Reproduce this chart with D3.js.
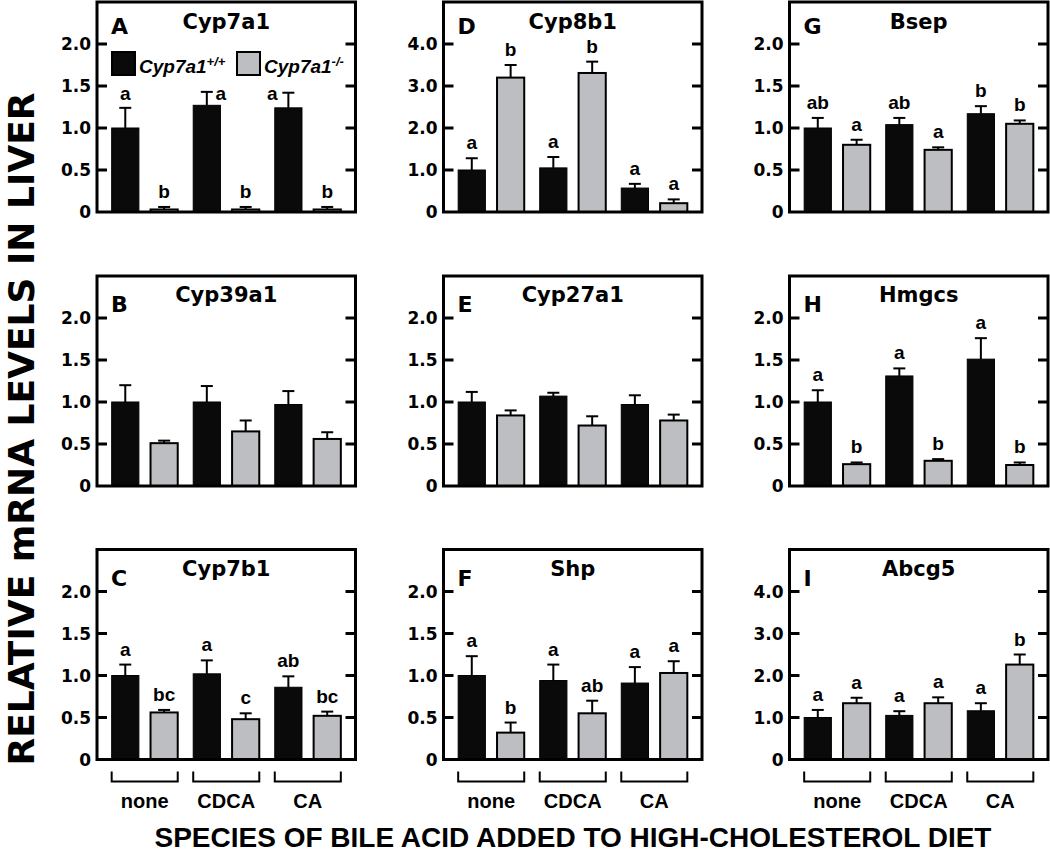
<!DOCTYPE html>
<html><head><meta charset="utf-8">
<script src="https://cdn.jsdelivr.net/npm/d3@7"></script>
<style>
body{margin:0;background:#fff}
svg{display:block}
text{font-family:"Liberation Sans",Arial,sans-serif;font-weight:bold;fill:#000}
.wide{font-family:"DejaVu Sans",sans-serif;font-weight:bold}
</style>
</head><body><svg id="c" width="1050" height="854"></svg>
<script>
// ---------- data ----------
const groups = ["none", "CDCA", "CA"];
const genotypes = ["wt", "ko"];
const panelLetters = ["A", "B", "C", "D", "E", "F", "G", "H", "I"];
const genes = ["Cyp7a1", "Cyp39a1", "Cyp7b1", "Cyp8b1", "Cyp27a1", "Shp", "Bsep", "Hmgcs", "Abcg5"];
const yMax = [2.5, 2.5, 2.5, 5, 2.5, 2.5, 2.5, 2.5, 5];
const tickSmall = [0, 0.5, 1.0, 1.5, 2.0];
const tickLabelsSmall = ["0", "0.5", "1.0", "1.5", "2.0"];
const tickLarge = [0, 1, 2, 3, 4];
const tickLabelsLarge = ["0", "1.0", "2.0", "3.0", "4.0"];
const wtMean = [
  [1.00, 1.27, 1.24], [1.00, 1.00, 0.97], [1.00, 1.02, 0.86],
  [1.00, 1.05, 0.57], [1.00, 1.07, 0.97], [1.00, 0.94, 0.91],
  [1.00, 1.04, 1.17], [1.00, 1.31, 1.51], [1.00, 1.05, 1.16]
];
const wtSem = [
  [0.24, 0.16, 0.18], [0.20, 0.19, 0.16], [0.13, 0.16, 0.13],
  [0.28, 0.26, 0.10], [0.12, 0.04, 0.11], [0.23, 0.19, 0.19],
  [0.12, 0.08, 0.09], [0.14, 0.09, 0.25], [0.18, 0.10, 0.18]
];
const koMean = [
  [0.03, 0.03, 0.03], [0.51, 0.65, 0.56], [0.56, 0.48, 0.52],
  [3.20, 3.31, 0.21], [0.84, 0.72, 0.78], [0.32, 0.55, 1.03],
  [0.80, 0.74, 1.05], [0.26, 0.30, 0.25], [1.34, 1.34, 2.26]
];
const koSem = [
  [0.03, 0.03, 0.03], [0.03, 0.13, 0.08], [0.03, 0.07, 0.05],
  [0.30, 0.27, 0.09], [0.06, 0.11, 0.07], [0.12, 0.15, 0.14],
  [0.06, 0.03, 0.04], [0.02, 0.02, 0.03], [0.13, 0.14, 0.24]
];
const wtLetters = [
  ["a", "a", "a"], ["", "", ""], ["a", "a", "ab"],
  ["a", "a", "a"], ["", "", ""], ["a", "a", "a"],
  ["ab", "ab", "b"], ["a", "a", "a"], ["a", "a", "a"]
];
const koLetters = [
  ["b", "b", "b"], ["", "", ""], ["bc", "c", "bc"],
  ["b", "b", "a"], ["", "", ""], ["b", "ab", "a"],
  ["a", "a", "b"], ["b", "b", "b"], ["a", "a", "b"]
];
const legendLabels = ["Cyp7a1", "Cyp7a1"];
const legendSup = ["+/+", "-/-"];
const yTitle = "RELATIVE mRNA LEVELS IN LIVER";
const xTitle = "SPECIES OF BILE ACID ADDED TO HIGH-CHOLESTEROL DIET";

// ---------- layout ----------
const colX = [97, 443.5, 789.5];
const rowY = [2, 276, 549.5];
const W = 258.5, H = 210;
const colors = { wt: "#0a0a0a", ko: "#bdbec1" };

const svg = d3.select("#c");

const x0 = d3.scaleBand().domain(groups).range([0, W]).paddingInner(0.19).paddingOuter(0.18);
const x1 = d3.scaleBand().domain(genotypes).range([0, x0.bandwidth()]).paddingInner(0.3).paddingOuter(0);

panelLetters.forEach((L, i) => {
  const col = Math.floor(i / 3), row = i % 3;
  const g = svg.append("g").attr("transform", `translate(${colX[col]},${rowY[row]})`);
  const y = d3.scaleLinear().domain([0, yMax[i]]).range([H, 0]);
  const big = yMax[i] > 3;
  const tv = big ? tickLarge : tickSmall;
  const tl = big ? tickLabelsLarge : tickLabelsSmall;

  const rows = [];
  groups.forEach((grp, j) => {
    rows.push({ grp, gt: "wt", v: wtMean[i][j], e: wtSem[i][j], lab: wtLetters[i][j], j });
    rows.push({ grp, gt: "ko", v: koMean[i][j], e: koSem[i][j], lab: koLetters[i][j], j });
  });
  const bx = d => x0(d.grp) + x1(d.gt);
  const bw = x1.bandwidth();

  // error bars (upper half only)
  rows.forEach(d => {
    const cx = bx(d) + bw / 2;
    g.append("line").attr("x1", cx).attr("x2", cx).attr("y1", y(d.v)).attr("y2", y(d.v + d.e))
      .attr("stroke", "#000").attr("stroke-width", 2);
    g.append("line").attr("x1", cx - 6).attr("x2", cx + 6).attr("y1", y(d.v + d.e)).attr("y2", y(d.v + d.e))
      .attr("stroke", "#000").attr("stroke-width", 2);
  });
  // bars
  g.selectAll("rect.bar").data(rows).join("rect")
    .attr("class", "bar")
    .attr("x", d => bx(d)).attr("width", bw)
    .attr("y", d => y(d.v)).attr("height", d => H - y(d.v))
    .attr("fill", d => colors[d.gt])
    .attr("stroke", "#000").attr("stroke-width", d => d.gt === "ko" ? 2 : 1);

  // significance letters
  rows.forEach(d => {
    if (!d.lab) return;
    let tx = bx(d) + bw / 2, ty = y(d.v + d.e) - 9;
    if (i === 0 && d.gt === "wt") {
      ty = y(wtMean[0][0] + wtSem[0][0]) - 8;
      if (d.j === 1) tx += 14;
      if (d.j === 2) tx -= 16;
    }
    g.append("text").attr("x", tx).attr("y", ty).attr("text-anchor", "middle")
      .style("font-size", "19px").text(d.lab);
  });

  // frame
  g.append("rect").attr("x", 0).attr("y", 0).attr("width", W).attr("height", H)
    .attr("fill", "none").attr("stroke", "#000").attr("stroke-width", 3);

  // inward ticks left/right + labels
  tv.forEach((t, k) => {
    if (t > 0) {
      g.append("line").attr("x1", 0).attr("x2", 10).attr("y1", y(t)).attr("y2", y(t))
        .attr("stroke", "#000").attr("stroke-width", 3);
      g.append("line").attr("x1", W - 10).attr("x2", W).attr("y1", y(t)).attr("y2", y(t))
        .attr("stroke", "#000").attr("stroke-width", 3);
    }
    g.append("text").attr("class", "wide").attr("x", -6).attr("y", y(t)).attr("dy", "0.36em")
      .attr("text-anchor", "end").style("font-size", "17px").text(tl[k]);
  });

  // title & panel letter
  g.append("text").attr("class", "wide").attr("x", W / 2).attr("y", row === 0 ? 27 : 26)
    .attr("text-anchor", "middle").style("font-size", "21px").text(genes[i]);
  g.append("text").attr("class", "wide").attr("x", 14).attr("y", row === 0 ? 32 : 36)
    .style("font-size", "22px").text(L);

  // legend in panel A
  if (i === 0) {
    genotypes.forEach((gt, k) => {
      const lx = k === 0 ? 15 : 140;
      g.append("rect").attr("x", lx).attr("y", 50).attr("width", 23).attr("height", 23)
        .attr("fill", colors[gt]).attr("stroke", "#000").attr("stroke-width", 2);
      const t = g.append("text").attr("x", lx + 27).attr("y", 71).style("font-size", "19px")
        .style("font-style", "italic");
      t.append("tspan").text(legendLabels[k]);
      t.append("tspan").attr("dy", -7).style("font-size", "13px").text(legendSup[k]);
    });
  }

  // group brackets on bottom row
  if (row === 2) {
    groups.forEach(grp => {
      const a = x0(grp), b = x0(grp) + x0.bandwidth();
      g.append("path").attr("d", `M${a},${H + 12}V${H + 22}H${b}V${H + 12}`)
        .attr("fill", "none").attr("stroke", "#000").attr("stroke-width", 2);
      g.append("text").attr("x", (a + b) / 2).attr("y", H + 48).attr("text-anchor", "middle")
        .style("font-size", "20px").text(grp);
    });
  }
});

// axis titles
svg.append("text").attr("class", "wide").attr("transform", "translate(34,429) rotate(-90)")
  .attr("text-anchor", "middle").style("font-size", "36px").text(yTitle);
svg.append("text").attr("x", 573).attr("y", 847).attr("text-anchor", "middle")
  .style("font-size", "28px").text(xTitle);
</script></body></html>
